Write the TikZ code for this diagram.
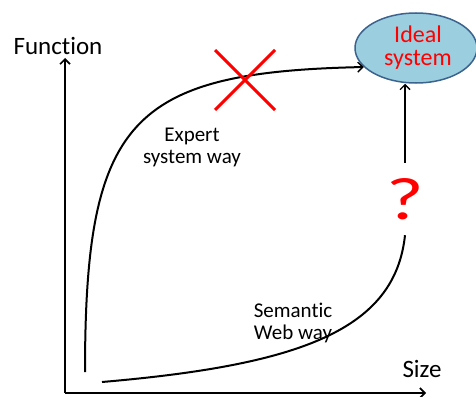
\documentclass[tikz,border=0pt]{standalone}
\usepackage{fontspec}
\setmainfont{Carlito}[Ligatures=NoCommon]
\usetikzlibrary{arrows.meta,shapes.geometric,calc}
\definecolor{idealfill}{RGB}{155,207,224}
\definecolor{idealdraw}{RGB}{60,98,142}

\begin{document}
\begin{tikzpicture}[x=1pt,y=1pt,yscale=-1,
  axis/.style={line width=2.4, -{Straight Barb[length=5,width=10,line width=1.6]}},
  curve/.style={line width=2},
  lbl/.style={inner sep=0pt, align=center, font=\fontsize{21}{22}\selectfont}]
\useasboundingbox (0,0) rectangle (476,396);

% Axes
\coordinate (O) at (65,393);
\coordinate (ytop) at (65,58);
\coordinate (xend) at (426,393);
\draw [axis] (O) -- (ytop);
\draw [axis] (O) -- (xend);

% Text Node
\node (fn) at (58,46) [inner sep=0pt, font=\fontsize{25}{30}\selectfont] {Function};
% Text Node
\node (size) at (422,369) [inner sep=0pt, font=\fontsize{25}{30}\selectfont] {Size};

% Goal ellipse
\node (ideal) at (416,48) [ellipse, draw=idealdraw, line width=1.5, fill=idealfill,
  minimum width=122, minimum height=70, inner sep=0pt, align=center,
  text=red, font=\fontsize{24}{23}\selectfont] {\hspace*{4pt}Ideal\\\hspace*{4pt}system};

% Question mark
\node (q) at (405,199) [inner sep=0pt, minimum height=72, text=red,
  font=\fontsize{60}{60}\selectfont] {\scalebox{1.35}[1]{?}};

% Expert system way
\coordinate (ex) at (85,372);
\draw [curve, -{Straight Barb[length=5,width=10,line width=1.4]}]
  (ex) .. controls (85,120) and (130,72) .. (ideal.200);
\node (exl) at (192,147) [lbl] {Expert\\system way};

% Semantic Web way
\coordinate (sw) at (102,382);
\draw [curve] (sw) .. controls (300,365) and (395,330) .. (q.south);
\node (swl) at (293,323) [lbl] {Semantic\\Web way};

% Up arrow
\draw [curve, -{Straight Barb[length=5,width=10,line width=1.4]}]
  (q.north) -- (q.north |- ideal.south);

% Cross
\coordinate (cx) at (245,80);
\draw [red, line width=3] ($(cx)+(-30,-30)$) -- ($(cx)+(30,30)$)
  ($(cx)+(30,-30)$) -- ($(cx)+(-30,30)$);

\end{tikzpicture}
\end{document}
